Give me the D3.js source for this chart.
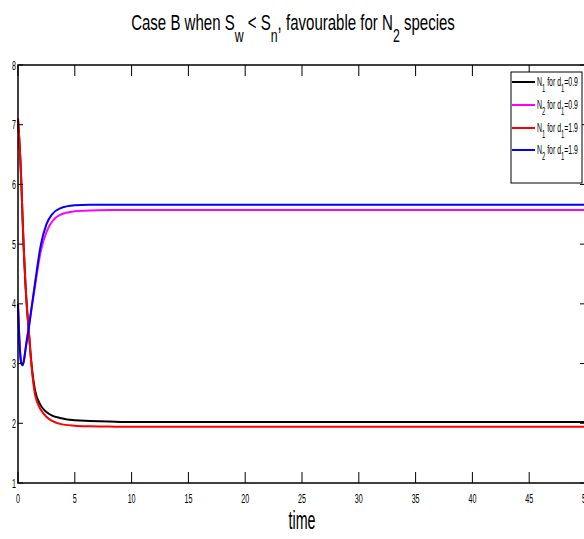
<!DOCTYPE html>
<html><head><meta charset="utf-8">
<script src="https://cdn.jsdelivr.net/npm/d3@7"></script>
<style>body{margin:0;background:#fff}svg{display:block}</style>
</head><body><svg id="c" width="584" height="539"></svg>
<script>
// ---- data ----
const tVals   = [0,0.1,0.2,0.3,0.4,0.5,0.65,0.8,0.95,1.15,1.5,2,2.5,3,3.7,5,6.3,8,10,15,20,25,30,35,40,45,50];
const n1_d09  = [7.1,6.8,6.45,6.0,5.45,4.95,4.35,3.9,3.55,3.07,2.55,2.3,2.19,2.13,2.09,2.05,2.04,2.03,2.02,2.02,2.02,2.02,2.02,2.02,2.02,2.02,2.02];
const n2_d09  = [4.0,3.5,3.15,3.0,2.97,3.03,3.22,3.42,3.6,3.86,4.3,4.88,5.2,5.38,5.49,5.55,5.565,5.57,5.57,5.57,5.57,5.57,5.57,5.57,5.57,5.57,5.57];
const n1_d19  = [7.1,6.8,6.45,6.0,5.45,4.95,4.35,3.9,3.55,3.05,2.48,2.23,2.11,2.04,1.99,1.96,1.95,1.945,1.94,1.94,1.94,1.94,1.94,1.94,1.94,1.94,1.94];
const n2_d19  = [4.0,3.5,3.15,3.0,2.97,3.03,3.22,3.42,3.6,3.88,4.35,4.98,5.33,5.5,5.6,5.65,5.66,5.66,5.66,5.66,5.66,5.66,5.66,5.66,5.66,5.66,5.66];
const seriesNames = ["N1 d0.9","N2 d0.9","N1 d1.9","N2 d1.9"];
const seriesColors = ["#000000","#ff00ff","#ff0000","#0000ff"];
const legendLabels = [["N","1"," for d","1","=0.9"],["N","2"," for d","1","=0.9"],["N","1"," for d","1","=1.9"],["N","2"," for d","1","=1.9"]];
const xTicks = [0,5,10,15,20,25,30,35,40,45,50];
const yTicks = [1,2,3,4,5,6,7,8];

const series = [n1_d09,n2_d09,n1_d19,n2_d19];
const svg = d3.select("#c");
const FONT = "'Liberation Sans', Arial, sans-serif";
const L=18, R=586, T=65, B=483;
const x = d3.scaleLinear().domain([0,50]).range([L,R]);
const y = d3.scaleLinear().domain([1,8]).range([B,T]);

// lines
const line = d3.line().x(d=>x(d[0])).y(d=>y(d[1])).curve(d3.curveMonotoneX);
series.forEach((s,i)=>{
  svg.append("path").datum(tVals.map((t,j)=>[t,s[j]]))
    .attr("d",line).attr("fill","none").attr("stroke",seriesColors[i]).attr("stroke-width",2);
});

// axes box
svg.append("rect").attr("x",L).attr("y",T).attr("width",R-L).attr("height",B-T)
  .attr("fill","none").attr("stroke","#000").attr("stroke-width",1.5);
// ticks
const sx = 0.55;
xTicks.forEach(v=>{
  svg.append("line").attr("x1",x(v)).attr("x2",x(v)).attr("y1",B).attr("y2",B-11).attr("stroke","#000");
  svg.append("line").attr("x1",x(v)).attr("x2",x(v)).attr("y1",T).attr("y2",T+11).attr("stroke","#000");
  svg.append("g").attr("transform",`translate(${x(v)},502.5) scale(${sx},1)`)
    .append("text").attr("text-anchor","middle").attr("font-family",FONT).attr("font-size",13).text(v);
});
yTicks.forEach(v=>{
  svg.append("line").attr("x1",L).attr("x2",L+5).attr("y1",y(v)).attr("y2",y(v)).attr("stroke","#000");
  svg.append("line").attr("x1",R).attr("x2",R-6).attr("y1",y(v)).attr("y2",y(v)).attr("stroke","#000");
  svg.append("g").attr("transform",`translate(16,${y(v)+4.5}) scale(${sx},1)`)
    .append("text").attr("text-anchor","end").attr("font-family",FONT).attr("font-size",13).text(v);
});

function fit(txt, targetW){
  const w = txt.node().getComputedTextLength();
  return targetW/w;
}
// title
const tg = svg.append("g");
const tt = tg.append("text").attr("text-anchor","middle").attr("font-family",FONT).attr("font-size",22);
tt.append("tspan").text("Case B when S");
tt.append("tspan").attr("font-size",18).attr("dy",12).text("w");
tt.append("tspan").attr("dy",-12).text(" < S");
tt.append("tspan").attr("font-size",18).attr("dy",12).text("n");
tt.append("tspan").attr("dy",-12).text(", favourable for N");
tt.append("tspan").attr("font-size",18).attr("dy",12).text("2");
tt.append("tspan").attr("dy",-12).text(" species");
const ts = fit(tt, 324);
tg.attr("transform",`translate(293,30) scale(${ts},1)`);

// xlabel
const xg = svg.append("g");
const xt = xg.append("text").attr("text-anchor","middle").attr("font-family",FONT).attr("font-size",26).text("time");
xg.attr("transform",`translate(302,529) scale(${fit(xt,27)},1)`);

// legend
svg.append("rect").attr("x",511).attr("y",72).attr("width",71).attr("height",111)
  .attr("fill","#fff").attr("stroke","#000").attr("stroke-width",1);
const rowY = [82,105,128,150];
legendLabels.forEach((parts,i)=>{
  svg.append("line").attr("x1",512).attr("x2",535).attr("y1",rowY[i]).attr("y2",rowY[i])
    .attr("stroke",seriesColors[i]).attr("stroke-width",2);
  const g = svg.append("g");
  const t = g.append("text").attr("font-family",FONT).attr("font-size",13);
  parts.forEach((p,k)=>{
    const sp = t.append("tspan").text(p);
    if(k%2===1){ sp.attr("font-size",11).attr("dy",6); }
    else if(k>0){ sp.attr("dy",-6); }
  });
  const s = fit(t,41);
  g.attr("transform",`translate(537,${rowY[i]+4}) scale(${s},1)`);
});
</script></body></html>
